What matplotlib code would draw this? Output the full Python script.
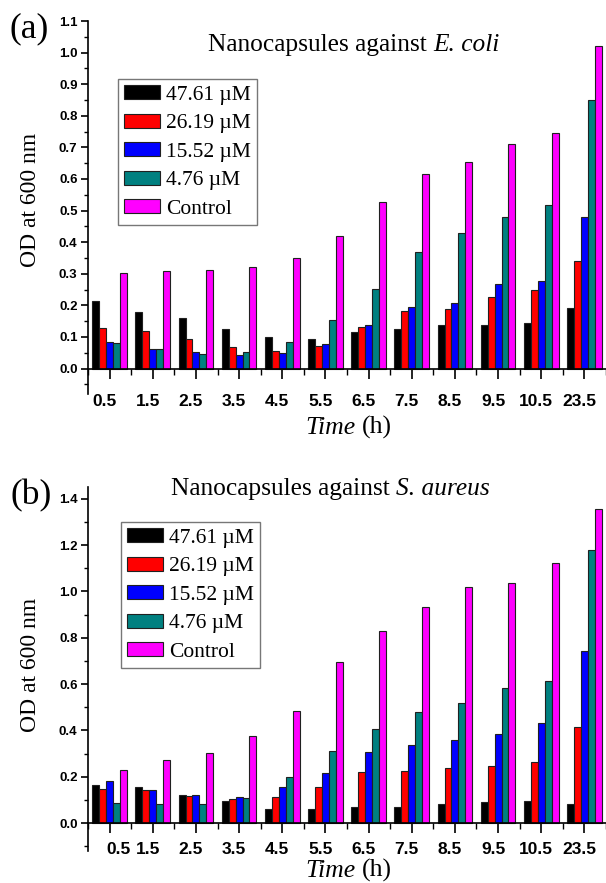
import numpy as np
import matplotlib
matplotlib.use("Agg")
import matplotlib.pyplot as plt
from matplotlib.ticker import MultipleLocator, FixedLocator
from matplotlib.patches import Patch
import matplotlib.transforms as mtransforms

# ---------------- data ----------------
times = ["0.5", "1.5", "2.5", "3.5", "4.5", "5.5", "6.5", "7.5", "8.5", "9.5", "10.5", "23.5"]
series_labels = ["47.61 \u00b5M", "26.19 \u00b5M", "15.52 \u00b5M", "4.76 \u00b5M", "Control"]
colors = ["#000000", "#ff0000", "#0000ff", "#008080", "#ff00ff"]

ecoli_4761 = [0.215, 0.180, 0.161, 0.124, 0.101, 0.094, 0.116, 0.124, 0.137, 0.139, 0.143, 0.192]
ecoli_2619 = [0.128, 0.120, 0.092, 0.069, 0.055, 0.071, 0.131, 0.183, 0.189, 0.226, 0.247, 0.339]
ecoli_1552 = [0.084, 0.063, 0.051, 0.043, 0.050, 0.078, 0.139, 0.196, 0.207, 0.266, 0.276, 0.479]
ecoli_476 = [0.082, 0.063, 0.046, 0.053, 0.084, 0.153, 0.251, 0.369, 0.429, 0.480, 0.517, 0.850]
ecoli_ctrl = [0.303, 0.310, 0.312, 0.320, 0.351, 0.419, 0.526, 0.617, 0.654, 0.711, 0.747, 1.020]

saureus_4761 = [0.166, 0.157, 0.121, 0.095, 0.059, 0.059, 0.069, 0.069, 0.080, 0.089, 0.097, 0.080]
saureus_2619 = [0.145, 0.141, 0.117, 0.102, 0.114, 0.157, 0.219, 0.224, 0.238, 0.245, 0.264, 0.415]
saureus_1552 = [0.180, 0.143, 0.120, 0.111, 0.154, 0.217, 0.308, 0.338, 0.360, 0.385, 0.432, 0.744]
saureus_476 = [0.086, 0.084, 0.082, 0.109, 0.197, 0.309, 0.406, 0.479, 0.518, 0.584, 0.615, 1.179]
saureus_ctrl = [0.228, 0.274, 0.302, 0.377, 0.485, 0.697, 0.828, 0.933, 1.021, 1.038, 1.125, 1.355]

ecoli = [ecoli_4761, ecoli_2619, ecoli_1552, ecoli_476, ecoli_ctrl]
saureus = [saureus_4761, saureus_2619, saureus_1552, saureus_476, saureus_ctrl]

W, H = 606, 883
fig = plt.figure(figsize=(W / 100, H / 100), dpi=100)
renderer = fig.canvas.get_renderer()

serif = 'Liberation Serif'
sans = 'Liberation Sans'


def shift(label, dx_px):
    label.set_transform(label.get_transform() +
                        mtransforms.ScaledTranslation(dx_px / 100, 0, fig.dpi_scale_trans))


def text_width(s, size, style):
    t = fig.text(0, 0, s, fontsize=size, family=serif, style=style)
    w = t.get_window_extent(renderer).width
    t.remove()
    return w


def rich_text(xc, y, parts, size):
    """parts: list of (string, style); placed left to right, joined by spaces, centred at xc."""
    sp = text_width("n n", size, 'normal') - text_width("nn", size, 'normal')
    widths = [text_width(s, size, st) for s, st in parts]
    total = sum(widths) + sp * (len(parts) - 1)
    x = xc - total / 2
    for (s, st), w in zip(parts, widths):
        fig.text(x / W, 1 - y / H, s, ha='left', va='baseline', fontsize=size,
                 family=serif, style=st)
        x += w + sp


def make_panel(rect, data, ylim, ymajor, yminor, xpad, title_parts, title_xy, letter, letter_xy,
               leg_xy, ylabel_xy, xlabel_xy):
    ax = fig.add_axes(rect)
    x = np.arange(len(times))
    bw = 0.16
    for i, (vals, c) in enumerate(zip(data, colors)):
        ax.bar(x + (i - 2) * bw, vals, width=bw, color=c, edgecolor='#202020', linewidth=0.8, zorder=2)
    ax.set_xlim(-0.5, len(times) - 0.5)
    ax.set_ylim(*ylim)
    for s in ['top', 'right']:
        ax.spines[s].set_visible(False)
    ax.spines['bottom'].set_position(('data', 0))
    ax.spines['left'].set_linewidth(1.2)
    ax.spines['bottom'].set_linewidth(1.2)
    ax.set_xticks(x)
    ax.set_xticklabels(times)
    ax.xaxis.set_minor_locator(FixedLocator(np.arange(-0.5, len(times), 1.0)))
    ax.yaxis.set_minor_locator(MultipleLocator(yminor))
    yt = np.arange(0, ylim[1] + 1e-9, ymajor)
    ax.set_yticks(yt)
    ax.set_yticklabels([f"{v:.1f}" for v in yt])
    ax.tick_params(axis='x', which='major', direction='out', length=7, width=1.2, pad=xpad,
                   labelsize=12.5)
    ax.tick_params(axis='x', which='minor', direction='out', length=4, width=1.0)
    ax.tick_params(axis='y', which='major', direction='out', length=5, width=1.2, pad=2.5,
                   labelsize=9.5)
    ax.tick_params(axis='y', which='minor', direction='out', length=3, width=1.0)
    for lab in ax.get_xticklabels() + ax.get_yticklabels():
        lab.set_fontfamily(sans)
        lab.set_fontweight('bold')
    for lab in ax.get_xticklabels():
        shift(lab, -5)

    rich_text(title_xy[0], title_xy[1], title_parts, 18.3)
    fig.text(letter_xy[0] / W, 1 - letter_xy[1] / H, letter, ha='left', va='center',
             fontsize=25.5, family=serif)
    fig.text(ylabel_xy[0] / W, 1 - ylabel_xy[1] / H, 'OD at 600 nm', ha='center', va='center',
             rotation=90, fontsize=17, family=serif)
    rich_text(xlabel_xy[0], xlabel_xy[1], [("Time", 'italic'), ("(h)", 'normal')], 18.5)

    handles = [Patch(facecolor=c, edgecolor='#202020', linewidth=0.8) for c in colors]
    leg = ax.legend(handles, series_labels, loc='upper left',
                    bbox_to_anchor=(leg_xy[0] / W, 1 - leg_xy[1] / H),
                    bbox_transform=fig.transFigure, prop={'family': serif, 'size': 15.5},
                    fancybox=False, frameon=True, borderaxespad=0, borderpad=0.3,
                    handlelength=1.65, handleheight=0.6, handletextpad=0.28,
                    labelspacing=0.42)
    leg.get_frame().set_edgecolor('#555555')
    leg.get_frame().set_linewidth(1.0)
    return ax


ax1 = make_panel([88 / W, 1 - 393.8 / H, (W - 88) / W, (393.8 - 21) / H], ecoli,
                 (-0.08, 1.1), 0.1, 0.05, 11.5,
                 [("Nanocapsules against", 'normal'), ("E. coli", 'italic')], (354, 51),
                 '(a)', (10, 29), (118, 79), (31, 200), (349, 434))

ax2 = make_panel([88 / W, 1 - 850.8 / H, (W - 88) / W, (850.8 - 487.3) / H], saureus,
                 (-0.12, 1.45), 0.2, 0.1, 7,
                 [("Nanocapsules against", 'normal'), ("S. aureus", 'italic')], (330, 495),
                 '(b)', (11, 496), (121, 522), (31, 665), (349, 877))

# first x tick label of the lower panel sits to the right of its tick
shift(ax2.get_xticklabels()[0], 14)

fig.savefig('out.png', dpi=100)
